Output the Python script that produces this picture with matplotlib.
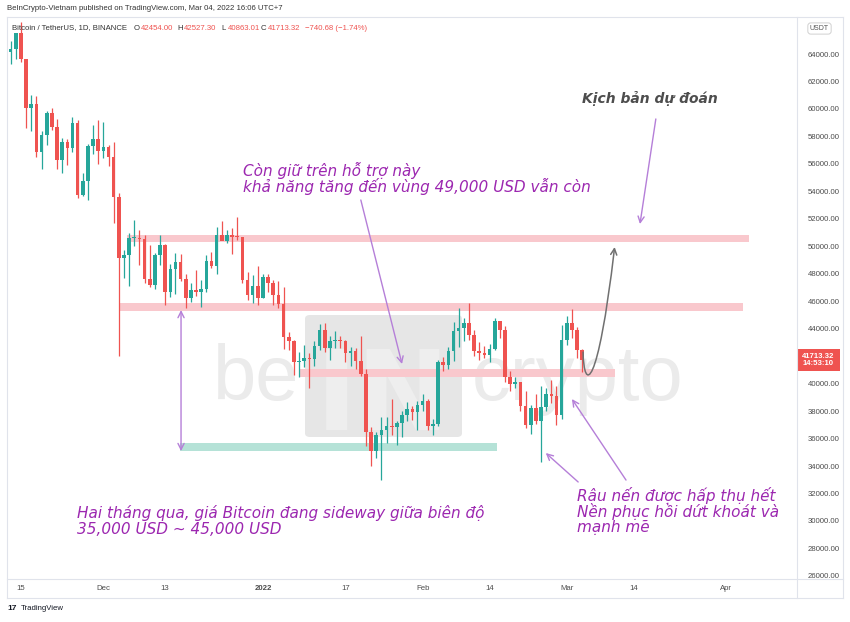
import matplotlib
matplotlib.use('Agg')
import matplotlib.pyplot as plt
import matplotlib.dates as mdates
from matplotlib.patches import FancyBboxPatch, FancyArrowPatch, Rectangle
from matplotlib.path import Path
from matplotlib.lines import Line2D
from matplotlib.transforms import blended_transform_factory
import numpy as np
import pandas as pd

W, H = 850, 622

# BTC/USDT daily candles (Binance), 12 Nov 2021 -> 4 Mar 2022
dates = pd.date_range('2021-11-12', '2022-03-04', freq='D')
opens = [
    64900, 64150, 64400, 65500, 63600, 60100, 60370, 56900, 58100, 59700, 58700, 56300, 57600, 57150, 58960, 53730, 54720, 57270, 57800,
    56950, 57200, 56500, 53600, 49150, 49400, 50580, 50620, 50500, 47600, 47150, 49400, 50100, 46700, 48350, 48880, 47630, 46200, 46850, 46700,
    46880, 48950, 48600, 50800, 50400, 50800, 50700, 50680, 47540, 46460, 47120,
    46210, 47730, 47310, 46450, 45830, 43430, 43080, 41550, 41680, 41860, 41820, 42730, 43900, 42590, 43100, 43180, 43110, 42250, 42375, 41660,
    40680, 36450, 35070, 36280, 36660, 36950, 36810, 37160, 37710, 38170, 37920,
    38480, 38740, 36950, 37080, 41570, 41380, 42410, 43840, 44040, 44380, 43510, 42390, 42200, 42050, 42530, 44540, 43870, 40510, 39970, 40090,
    38370, 37010, 38230, 37250, 38330, 39210, 39100, 37700,
    43160, 44420, 43890, 42454.00,
]
highs = [
    65500, 64950, 65550, 66350, 63650, 61000, 60950, 58400, 59850, 60050, 59300, 57850, 57800, 59400, 59200, 55300, 57450, 58850, 59200,
    59050, 57400, 57600, 53900, 49700, 50950, 51950, 51200, 50800, 50100, 49500, 50800, 50200, 48700, 49500, 49450, 48000, 47350, 48300, 47550,
    49350, 49600, 51400, 51850, 51200, 51300, 52100, 50700, 48150, 47900, 48550,
    47950, 47990, 47550, 47500, 47070, 43750, 43150, 42300, 42800, 42250, 43100, 44350, 44450, 43450, 43800, 43500, 43200, 42700, 42600, 43500,
    41100, 36850, 36500, 37550, 37550, 38900, 37250, 38000, 38700, 38350, 38750,
    39250, 38850, 37400, 41750, 41950, 42650, 44500, 45500, 44800, 45850, 43900, 43000, 42750, 42900, 44750, 44550, 44200, 40950, 40450, 40150,
    39500, 38450, 39250, 39850, 39700, 40300, 39850, 44250,
    44950, 45400, 44100, 42527.30,
]
lows = [
    62300, 63300, 63600, 63400, 58600, 58400, 56500, 55650, 57350, 58500, 55650, 55300, 55900, 56900, 53550, 53650, 53350, 56700, 56000,
    56450, 55850, 51700, 42000, 47700, 47100, 50050, 48650, 47300, 47000, 46900, 48650, 45700, 46300, 46550, 47500, 45500, 45950, 46400, 45550,
    46650, 48450, 47950, 50450, 50250, 49450, 50450, 47300, 46100, 45900, 45700,
    46200, 46650, 45700, 45500, 42500, 42450, 40600, 40500, 41200, 39650, 41300, 42450, 42300, 41750, 42600, 42600, 41550, 41250, 41100, 40550,
    35450, 34000, 34600, 32950, 35700, 36250, 35500, 36150, 37300, 37350, 36650,
    38000, 36650, 36250, 36950, 40950, 41100, 41650, 42650, 43100, 43200, 42000, 41750, 41850, 41550, 42450, 43300, 40100, 39450, 39650, 38000,
    36800, 36350, 37050, 34320, 38000, 38600, 37000, 37450,
    42850, 43350, 41850, 40863.01,
]
closes = [
    64150, 64400, 65500, 63600, 60100, 60370, 56900, 58100, 59700, 58700, 56300, 57600, 57150, 58960, 53730, 54720, 57270, 57800, 56950,
    57200, 56500, 53600, 49150, 49400, 50580, 50620, 50500, 47600, 47150, 49400, 50100, 46700, 48350, 48880, 47630, 46200, 46850, 46700,
    46880, 48950, 48600, 50800, 50400, 50800, 50700, 50680, 47540, 46460, 47120, 46210,
    47730, 47310, 46450, 45830, 43430, 43080, 41550, 41680, 41860, 41820, 42730, 43900, 42590, 43100, 43180, 43110, 42250, 42375, 41660,
    40680, 36450, 35070, 36280, 36660, 36950, 36810, 37160, 37710, 38170, 37920, 38480,
    38740, 36950, 37080, 41570, 41380, 42410, 43840, 44040, 44380, 43510, 42390, 42200, 42050, 42530, 44540, 43870, 40510, 39970, 40090,
    38370, 37010, 38230, 37250, 38330, 39210, 39100, 37700, 43160,
    44420, 43890, 42450, 41713.32,
]

# horizontal zones drawn on the chart
zone_low = [50280, 45290, 40480, 35100]
zone_high = [50820, 45840, 41060, 35680]
zone_start = ['2021-12-05 14:00', '2021-12-04 00:00', '2022-01-08 05:00', '2021-12-15 22:00']
zone_end = ['2022-04-05 07:00', '2022-04-04 05:00', '2022-03-10 07:00', '2022-02-15 10:00']
zone_color = ['#f9c8cd', '#f9c8cd', '#f9c8cd', '#b5e2d7']

tick_dates = ['2021-11-15', '2021-12-01', '2021-12-13', '2022-01-01', '2022-01-17',
              '2022-02-01', '2022-02-14', '2022-03-01', '2022-03-14', '2022-04-01']
tick_labels = ['15', 'Dec', '13', '2022', '17', 'Feb', '14', 'Mar', '14', 'Apr']
price_ticks = np.arange(26000, 66001, 2000)
hidden_ticks = [42000, 66000]   # covered by the price tag / currency badge

UP, DOWN = '#26a69a', '#ef5350'
PURPLE = '#9c27b0'
LAVENDER = '#b57fd8'
UI = 'Liberation Sans'


def fx(x):
    return x / W


def fy(y):
    return 1 - y / H


def t(s):
    return mdates.date2num(pd.Timestamp(s))


fig = plt.figure(figsize=(W / 100, H / 100), dpi=100)
fig.patch.set_facecolor('white')
ax = fig.add_axes([fx(8), fy(579), (797 - 8) / W, (579 - 17) / H])
ax.set_facecolor('none')

# watermark (behind the chart)
fig.add_artist(FancyBboxPatch((fx(305), fy(437)), (462 - 305) / W, (437 - 315) / H,
                              boxstyle='round,pad=0,rounding_size=0.006', fc='#e6e6e6', ec='none', zorder=-6))
fig.text(fx(383), fy(430), 'IN', fontsize=80, fontweight='bold', color='#eeeeee', ha='center',
         va='baseline', family='DejaVu Sans', zorder=-5)
fig.text(fx(213), fy(400), 'be', fontsize=56, color='#ebebeb', ha='left', va='baseline', family=UI, zorder=-5)
fig.text(fx(472), fy(400), 'crypto', fontsize=56, color='#ebebeb', ha='left', va='baseline', family=UI, zorder=-5)

# zones
for lo, hi, s, e, c in zip(zone_low, zone_high, zone_start, zone_end, zone_color):
    ax.fill_between([t(s), t(e)], lo, hi, color=c, lw=0, zorder=1)

# candles
x = mdates.date2num(dates)
o = np.array(opens)
c = np.array(closes)
cols = np.where(c >= o, UP, DOWN)
ax.vlines(x, lows, highs, colors=cols, lw=0.9, zorder=2)
ax.bar(x, np.maximum(np.abs(c - o), 70), width=0.7, bottom=np.minimum(o, c), color=cols, lw=0, zorder=3)

ax.set_xlim(t('2021-11-12 11:30'), t('2022-04-14 17:00'))
ax.set_ylim(25777, 66694)
ax.set_xticks([t(d) for d in tick_dates])
ax.set_xticklabels(tick_labels)
ax.yaxis.tick_right()
ax.set_yticks(price_ticks)
ax.set_yticklabels(['' if p in hidden_ticks else f'{p:.2f}' for p in price_ticks])
ax.tick_params(axis='both', length=0, labelsize=5.6, labelcolor='#4c4c4c')
ax.tick_params(axis='x', pad=4)
ax.tick_params(axis='y', pad=8)
for lab in ax.get_xticklabels() + ax.get_yticklabels():
    lab.set_family(UI)
ax.get_xticklabels()[3].set_fontweight('bold')
for sp in ax.spines.values():
    sp.set_visible(False)

# frame lines of the TradingView layout
for (x0, y0, x1, y1) in [(7, 17, 843, 17), (7, 579, 843, 579), (7, 598, 843, 598),
                         (7, 17, 7, 598), (797, 17, 797, 598), (843, 17, 843, 598)]:
    fig.add_artist(Line2D([fx(x0), fx(x1)], [fy(y0), fy(y1)], color='#e0e3eb', lw=0.8))

# last price label on the price scale
bt = blended_transform_factory(ax.transAxes, ax.transData)
box_w = 43 / (797 - 8)
box_h = 22 / (579 - 17) * (66694 - 25777)
ax.add_patch(Rectangle((1.0, closes[-1] - box_h / 2), box_w, box_h, transform=bt, fc=DOWN, ec='none',
                       clip_on=False, zorder=9))
ax.text(1.0 + box_w / 2, closes[-1], f'{closes[-1]:.2f}\n14:53:10', transform=bt, ha='center', va='center',
        fontsize=5.6, color='white', fontweight='bold', family=UI, linespacing=1.15, zorder=10, clip_on=False)
fig.text(fx(819.5), fy(28.5), 'USDT', fontsize=5, color='#555555', ha='center', va='center', family=UI,
         zorder=10, bbox=dict(boxstyle='round,pad=0.3,rounding_size=0.4', fc='white', ec='#c9c9c9', lw=0.6))

# header texts
fig.text(fx(7), fy(9), 'BeInCrypto-Vietnam published on TradingView.com, Mar 04, 2022 16:06 UTC+7',
         fontsize=5.6, color='#333333', va='center', family=UI)
fig.text(fx(12), fy(28), 'Bitcoin / TetherUS, 1D, BINANCE', fontsize=5.6, color='#333333', va='center', family=UI)
for lab, val, xl in [('O', opens[-1], 134), ('H', highs[-1], 177), ('L', lows[-1], 221), ('C', closes[-1], 261)]:
    fig.text(fx(xl), fy(28), lab, fontsize=5.6, color='#333333', va='center', family=UI)
    fig.text(fx(xl + 6.5), fy(28), f'{val:.2f}', fontsize=5.6, color=DOWN, va='center', family=UI)
fig.text(fx(305), fy(28), '\u2212740.68 (\u22121.74%)', fontsize=5.6, color=DOWN, va='center', family=UI)

# footer
fig.text(fx(7), fy(609), '17', fontsize=6, fontweight='bold', color='#131722', va='center', family=UI)
fig.text(fx(21), fy(609), 'TradingView', fontsize=5.6, color='#131722', va='center', family=UI)


# annotations
def arrow(start, end, style='->', color=LAVENDER, lw=1.0):
    ax.annotate('', xy=(t(end[0]), end[1]), xytext=(t(start[0]), start[1]),
                arrowprops=dict(arrowstyle=style, color=color, lw=lw, shrinkA=0, shrinkB=0,
                                mutation_scale=11), zorder=6)


arrow(('2022-01-20 00:00', 53370), ('2022-01-28 00:00', 41430))
arrow(('2022-03-18 07:00', 59270), ('2022-03-15 05:00', 51620))
arrow(('2021-12-16 02:00', 45360), ('2021-12-16 02:00', 35090), style='<->')
arrow(('2022-03-03 05:00', 32840), ('2022-02-24 22:00', 34950))
arrow(('2022-03-12 12:00', 32980), ('2022-03-02 00:00', 38880))

curve = Path([(t('2022-03-04 04:00'), 42300), (t('2022-03-04 07:00'), 39390),
              (t('2022-03-07 00:00'), 39390), (t('2022-03-10 07:00'), 49950)],
             [Path.MOVETO, Path.CURVE4, Path.CURVE4, Path.CURVE4])
ax.add_patch(FancyArrowPatch(path=curve, arrowstyle='->', color='#707070', lw=1.1,
                             mutation_scale=11, zorder=6))

txt = dict(fontsize=11, style='italic', color=PURPLE, family='DejaVu Sans', va='center', ha='left')
fig.text(fx(243), fy(170), 'Còn giữ trên hỗ trợ này', **txt)
fig.text(fx(243), fy(186), 'khả năng tăng đến vùng 49,000 USD vẫn còn', **txt)
fig.text(fx(77), fy(513), 'Hai tháng qua, giá Bitcoin đang sideway giữa biên độ', **txt)
fig.text(fx(77), fy(529), '35,000 USD ~ 45,000 USD', **txt)
fig.text(fx(577), fy(495), 'Râu nến được hấp thụ hết', **txt)
fig.text(fx(577), fy(511), 'Nền phục hồi dứt khoát và', **txt)
fig.text(fx(577), fy(527), 'mạnh mẽ', **txt)
fig.text(fx(582), fy(99), 'Kịch bản dự đoán', fontsize=10, style='italic', fontweight='bold',
         color='#4d4d4d', family='DejaVu Sans', va='center', ha='left')

fig.savefig('out.png', dpi=100)
